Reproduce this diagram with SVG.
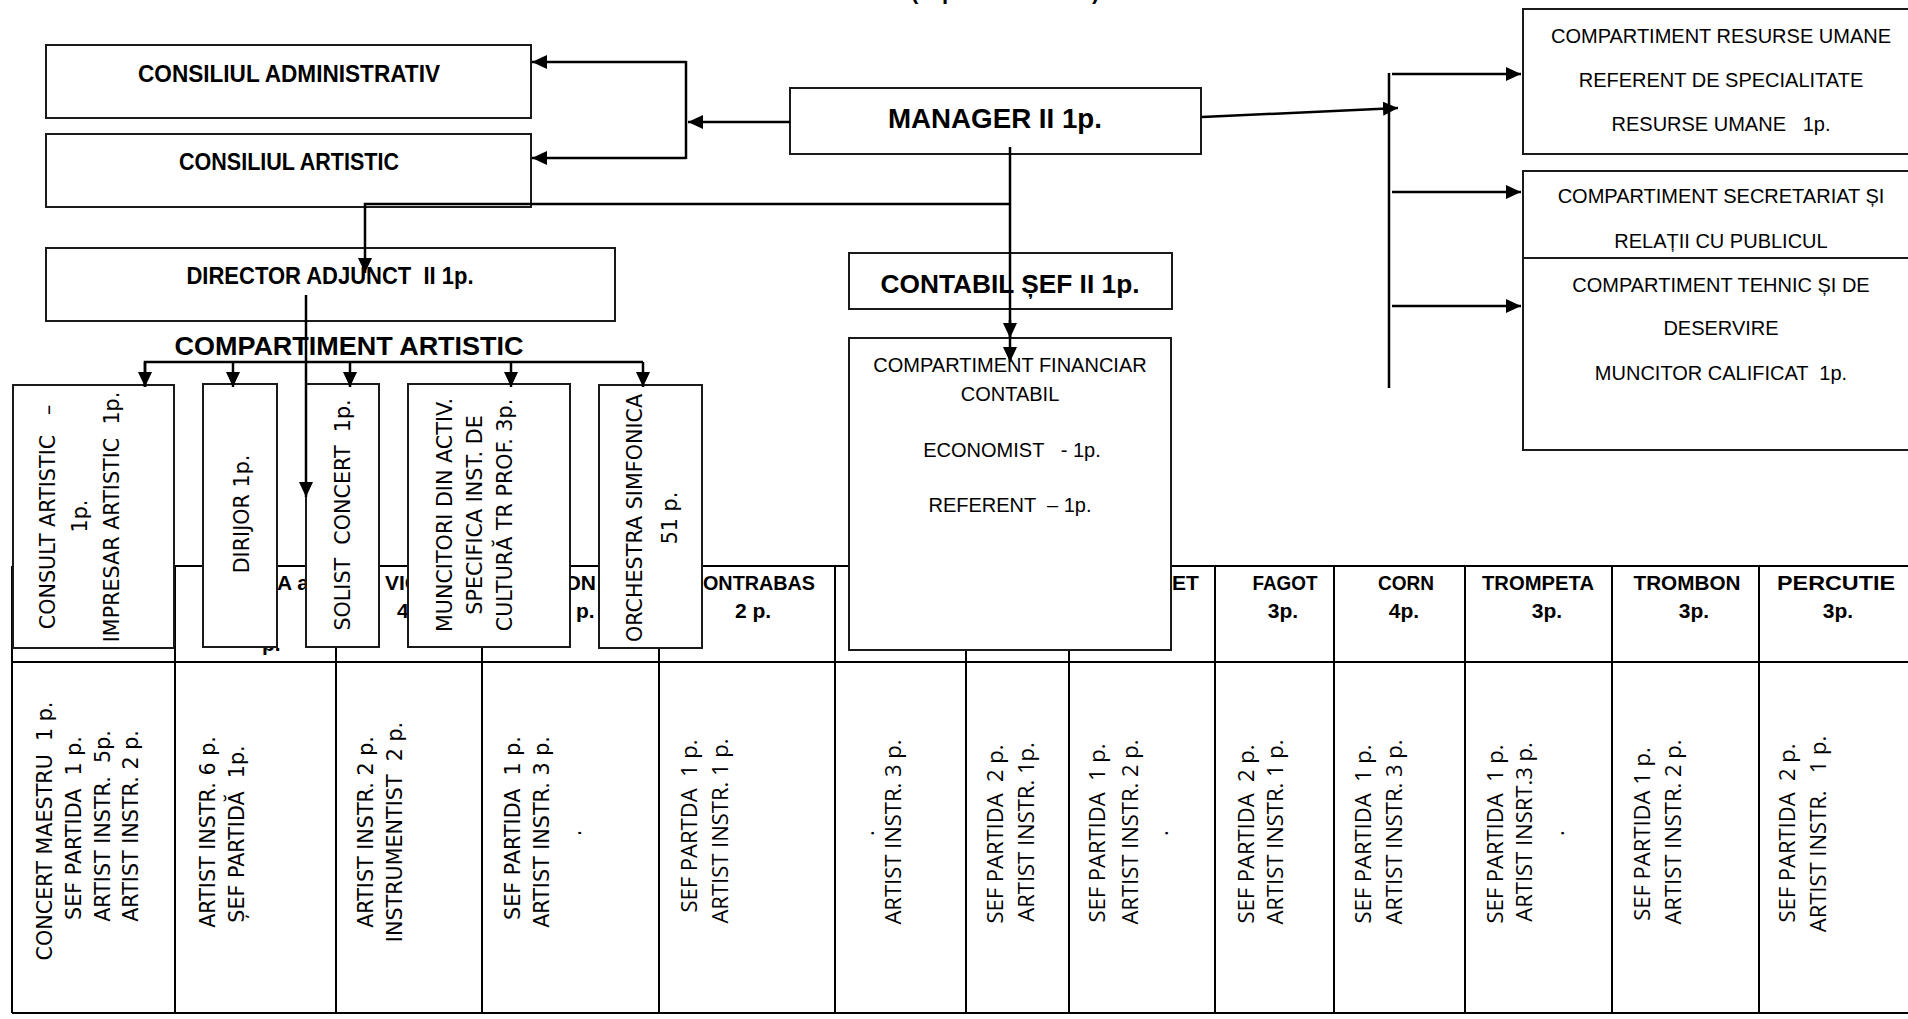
<svg xmlns="http://www.w3.org/2000/svg" width="1908" height="1019" viewBox="0 0 1908 1019">
<defs>
<style>
text { white-space: pre; fill: #000; }
.b { font-family: "Liberation Sans", Arial, sans-serif; font-weight: bold; }
.r { font-family: "Liberation Sans", Arial, sans-serif; font-size: 20px; }
.d { font-family: "DejaVu Sans", Verdana, sans-serif; font-size: 20.7px; }
.o { font-family: "Open Sans", "DejaVu Sans", sans-serif; font-size: 22px; }
.box { fill: #fff; stroke: #1a1a1a; stroke-width: 2; }
.tl { stroke: #000; stroke-width: 2; fill: none; }
.c { stroke: #000; stroke-width: 2.5; fill: none; }
.hd { font-size: 21px; }
</style>
<marker id="ah" viewBox="0 0 15 14" markerUnits="userSpaceOnUse" markerWidth="15" markerHeight="14" refX="15" refY="7" orient="auto">
<path d="M0,0 L15,7 L0,14 z" fill="#000"/>
</marker>
</defs>
<rect x="0" y="0" width="1908" height="1019" fill="#fff"/>

<g id="title">
<text class="b" font-size="22" x="911 942 1092" y="-1">(p)</text>
</g>

<g id="orchestra-table">
<g class="tl">
<line x1="12" y1="566" x2="1908" y2="566"/>
<line x1="12" y1="662" x2="1908" y2="662"/>
<line x1="12" y1="1013" x2="1908" y2="1013"/>
<line x1="12" y1="566" x2="12" y2="1013"/>
<line x1="175" y1="566" x2="175" y2="1013"/>
<line x1="336" y1="566" x2="336" y2="1013"/>
<line x1="482" y1="566" x2="482" y2="1013"/>
<line x1="659" y1="566" x2="659" y2="1013"/>
<line x1="835" y1="566" x2="835" y2="1013"/>
<line x1="966" y1="566" x2="966" y2="1013"/>
<line x1="1069" y1="566" x2="1069" y2="1013"/>
<line x1="1215" y1="566" x2="1215" y2="1013"/>
<line x1="1334" y1="566" x2="1334" y2="1013"/>
<line x1="1465" y1="566" x2="1465" y2="1013"/>
<line x1="1612" y1="566" x2="1612" y2="1013"/>
<line x1="1759" y1="566" x2="1759" y2="1013"/>
</g>
<g class="b hd">
<text x="277" y="590">A a</text>
<text x="262" y="651">p.</text>
<text x="385" y="590">VIO</text>
<text x="397" y="618">4</text>
<text x="596" y="590" text-anchor="end">ON</text>
<text x="576" y="618">p.</text>
<text x="703" y="590" textLength="112" lengthAdjust="spacingAndGlyphs">ONTRABAS</text>
<text x="753" y="618" text-anchor="middle">2 p.</text>
<text x="1172" y="590">ET</text>
<text x="1285" y="590" text-anchor="middle" textLength="65" lengthAdjust="spacingAndGlyphs">FAGOT</text>
<text x="1283" y="618" text-anchor="middle">3p.</text>
<text x="1406" y="590" text-anchor="middle" textLength="56" lengthAdjust="spacingAndGlyphs">CORN</text>
<text x="1404" y="618" text-anchor="middle">4p.</text>
<text x="1538" y="590" text-anchor="middle" textLength="112" lengthAdjust="spacingAndGlyphs">TROMPETA</text>
<text x="1547" y="618" text-anchor="middle">3p.</text>
<text x="1687" y="590" text-anchor="middle" textLength="107" lengthAdjust="spacingAndGlyphs">TROMBON</text>
<text x="1694" y="618" text-anchor="middle">3p.</text>
<text x="1836" y="590" text-anchor="middle" textLength="118" lengthAdjust="spacingAndGlyphs">PERCUTIE</text>
<text x="1838" y="618" text-anchor="middle">3p.</text>
</g>
<g class="d" text-anchor="middle">
<text transform="translate(52,831) rotate(-90)">CONCERT MAESTRU  1 p.</text>
<text transform="translate(81,828) rotate(-90)">SEF PARTIDA  1 p.</text>
<text transform="translate(110,826) rotate(-90)">ARTIST INSTR.  5p.</text>
<text transform="translate(138,826) rotate(-90)">ARTIST INSTR. 2 p.</text>
<text transform="translate(215,832) rotate(-90)">ARTIST INSTR. 6 p.</text>
<text transform="translate(244,834) rotate(-90)">ȘEF PARTIDĂ  1p.</text>
<text transform="translate(373,832) rotate(-90)">ARTIST INSTR. 2 p.</text>
<text transform="translate(402,832) rotate(-90)">INSTRUMENTIST  2 p.</text>
<text transform="translate(520,828) rotate(-90)">SEF PARTIDA  1 p.</text>
<text transform="translate(549,832) rotate(-90)">ARTIST INSTR. 3 p.</text>
<text transform="translate(581,833) rotate(-90)">.</text>
</g>
<g class="o" text-anchor="middle">
<text transform="translate(697,826) rotate(-90)">SEF PARTDA  1 p.</text>
<text transform="translate(728,831) rotate(-90)">ARTIST INSTR. 1 p.</text>
<text transform="translate(874,833) rotate(-90)">.</text>
<text transform="translate(901,832) rotate(-90)">ARTIST INSTR. 3 p.</text>
<text transform="translate(1003,834) rotate(-90)">SEF PARTIDA  2 p.</text>
<text transform="translate(1034,832) rotate(-90)">ARTIST INSTR. 1p.</text>
<text transform="translate(1105,833) rotate(-90)">SEF PARTIDA  1 p.</text>
<text transform="translate(1138,832) rotate(-90)">ARTIST INSTR. 2 p.</text>
<text transform="translate(1168,833) rotate(-90)">.</text>
<text transform="translate(1254,834) rotate(-90)">SEF PARTIDA  2 p.</text>
<text transform="translate(1283,832) rotate(-90)">ARTIST INSTR. 1 p.</text>
<text transform="translate(1371,834) rotate(-90)">SEF PARTIDA  1 p.</text>
<text transform="translate(1402,832) rotate(-90)">ARTIST INSTR. 3 p.</text>
<text transform="translate(1503,834) rotate(-90)">SEF PARTIDA  1 p.</text>
<text transform="translate(1532,832) rotate(-90)">ARTIST INSRT.3 p.</text>
<text transform="translate(1564,833) rotate(-90)">.</text>
<text transform="translate(1650,834) rotate(-90)">SEF PARTIDA 1 p.</text>
<text transform="translate(1681,832) rotate(-90)">ARTIST INSTR. 2 p.</text>
<text transform="translate(1795,833) rotate(-90)">SEF PARTIDA  2 p.</text>
<text transform="translate(1826,834) rotate(-90)">ARTIST INSTR.   1 p.</text>
</g>
</g>

<g id="consiliul-administrativ">
<rect class="box" x="46" y="45" width="485" height="73"/>
<text class="b" font-size="24" x="289" y="82" text-anchor="middle" textLength="302" lengthAdjust="spacingAndGlyphs">CONSILIUL ADMINISTRATIV</text>
</g>
<g id="consiliul-artistic">
<rect class="box" x="46" y="134" width="485" height="73"/>
<text class="b" font-size="24" x="289" y="170" text-anchor="middle" textLength="220" lengthAdjust="spacingAndGlyphs">CONSILIUL ARTISTIC</text>
</g>
<g id="manager">
<rect class="box" x="790" y="88" width="411" height="66"/>
<text class="b" font-size="28" x="995" y="128" text-anchor="middle" textLength="214" lengthAdjust="spacingAndGlyphs">MANAGER II 1p.</text>
</g>
<g id="director-adjunct">
<rect class="box" x="46" y="248" width="569" height="73"/>
<text class="b" font-size="23" x="330" y="284" text-anchor="middle" textLength="287" lengthAdjust="spacingAndGlyphs">DIRECTOR ADJUNCT  II 1p.</text>
</g>
<g id="compartiment-artistic-label">
<text class="b" font-size="26" x="349" y="355" text-anchor="middle" textLength="349" lengthAdjust="spacingAndGlyphs">COMPARTIMENT ARTISTIC</text>
</g>
<g id="contabil-sef">
<rect class="box" x="849" y="253" width="323" height="56"/>
<text class="b" font-size="26" x="1010" y="293" text-anchor="middle" textLength="259" lengthAdjust="spacingAndGlyphs">CONTABIL ȘEF II 1p.</text>
</g>
<g id="compartiment-financiar">
<rect class="box" x="849" y="338" width="322" height="312"/>
<text class="r" x="1010" y="372" text-anchor="middle">COMPARTIMENT FINANCIAR</text>
<text class="r" x="1010" y="401" text-anchor="middle">CONTABIL</text>
<text class="r" x="1012" y="457" text-anchor="middle">ECONOMIST   - 1p.</text>
<text class="r" x="1010" y="512" text-anchor="middle">REFERENT  – 1p.</text>
</g>
<g id="resurse-umane">
<rect class="box" x="1523" y="9" width="400" height="145"/>
<text class="r" x="1721" y="43" text-anchor="middle">COMPARTIMENT RESURSE UMANE</text>
<text class="r" x="1721" y="87" text-anchor="middle">REFERENT DE SPECIALITATE</text>
<text class="r" x="1721" y="131" text-anchor="middle">RESURSE UMANE   1p.</text>
</g>
<g id="secretariat">
<rect class="box" x="1523" y="171" width="400" height="87"/>
<text class="r" x="1721" y="203" text-anchor="middle">COMPARTIMENT SECRETARIAT ȘI</text>
<text class="r" x="1721" y="248" text-anchor="middle">RELAȚII CU PUBLICUL</text>
</g>
<g id="tehnic">
<rect class="box" x="1523" y="258" width="400" height="192"/>
<text class="r" x="1721" y="292" text-anchor="middle">COMPARTIMENT TEHNIC ȘI DE</text>
<text class="r" x="1721" y="335" text-anchor="middle">DESERVIRE</text>
<text class="r" x="1721" y="380" text-anchor="middle">MUNCITOR CALIFICAT  1p.</text>
</g>
<g id="consult-artistic">
<rect class="box" x="13" y="385" width="161" height="263"/>
<g class="d" text-anchor="middle">
<text transform="translate(55,517) rotate(-90)">CONSULT ARTISTIC   –</text>
<text transform="translate(87,516) rotate(-90)">1p.</text>
<text transform="translate(119,517) rotate(-90)">IMPRESAR ARTISTIC  1p.</text>
</g>
</g>
<g id="dirijor">
<rect class="box" x="203" y="384" width="74" height="263"/>
<text class="d" text-anchor="middle" transform="translate(249,514) rotate(-90)">DIRIJOR 1p.</text>
</g>
<g id="solist">
<rect class="box" x="306" y="384" width="73" height="263"/>
<text class="d" text-anchor="middle" transform="translate(350,515) rotate(-90)">SOLIST  CONCERT  1p.</text>
</g>
<g id="muncitori">
<rect class="box" x="408" y="384" width="162" height="263"/>
<g class="d" text-anchor="middle">
<text transform="translate(452,515) rotate(-90)">MUNCITORI DIN ACTIV.</text>
<text transform="translate(482,515) rotate(-90)">SPECIFICA INST. DE</text>
<text transform="translate(512,515) rotate(-90)">CULTURĂ TR PROF. 3p.</text>
</g>
</g>
<g id="orchestra-simfonica">
<rect class="box" x="599" y="385" width="103" height="263"/>
<g class="d" text-anchor="middle">
<text transform="translate(642,518) rotate(-90)">ORCHESTRA SIMFONICA</text>
<text transform="translate(677,518) rotate(-90)">51 p.</text>
</g>
</g>

<g id="connectors" class="c">
<line x1="790" y1="122" x2="688" y2="122" marker-end="url(#ah)"/>
<line x1="686" y1="61" x2="686" y2="159"/>
<line x1="686" y1="62" x2="532" y2="62" marker-end="url(#ah)"/>
<line x1="686" y1="158" x2="532" y2="158" marker-end="url(#ah)"/>
<line x1="1202" y1="117" x2="1398" y2="108" marker-end="url(#ah)"/>
<line x1="1389" y1="73" x2="1389" y2="388"/>
<line x1="1392" y1="74" x2="1521" y2="74" marker-end="url(#ah)"/>
<line x1="1392" y1="192" x2="1521" y2="192" marker-end="url(#ah)"/>
<line x1="1392" y1="306" x2="1521" y2="306" marker-end="url(#ah)"/>
<line x1="1010" y1="147" x2="1010" y2="362" marker-end="url(#ah)"/>
<line x1="1010" y1="320" x2="1010" y2="338" marker-end="url(#ah)"/>
<polyline points="1010,204 365,204 365,273" marker-end="url(#ah)"/>
<line x1="306" y1="295" x2="306" y2="497" marker-end="url(#ah)"/>
<polyline points="145,387 145,362 643,362"/>
<line x1="145" y1="362" x2="145" y2="387" marker-end="url(#ah)"/>
<line x1="233" y1="362" x2="233" y2="387" marker-end="url(#ah)"/>
<line x1="350" y1="362" x2="350" y2="387" marker-end="url(#ah)"/>
<line x1="511" y1="362" x2="511" y2="387" marker-end="url(#ah)"/>
<line x1="643" y1="362" x2="643" y2="387" marker-end="url(#ah)"/>
</g>
</svg>
